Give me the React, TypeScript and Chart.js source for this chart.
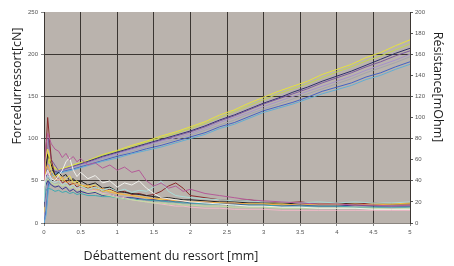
import React, { useEffect, useRef } from "react";
import { Chart, registerables } from "chart.js";

Chart.register(...registerables);

// ---------- Data ----------
// Rising curves (left axis, Force du ressort [cN])
const X_FORCE = [0, 0.03, 0.06, 0.1, 0.2, 0.4, 0.6, 0.8, 1.0, 1.2, 1.4, 1.6, 1.8, 2.0, 2.2, 2.4, 2.6, 2.8, 3.0, 3.2, 3.4, 3.6, 3.8, 4.0, 4.2, 4.4, 4.6, 4.8, 5.0];
const FORCE_YELLOW = [0, 40, 85, 68, 63, 69, 74, 81, 86, 92, 97, 103, 108, 114, 120, 128, 134, 142, 149, 156, 162, 168, 176, 182, 188, 196, 202, 210, 217];
const FORCE_YELLOWGREEN = [0, 30, 75, 66, 62, 68, 73, 80, 85, 90, 96, 101, 106, 112, 118, 125, 132, 139, 146, 153, 159, 165, 172, 179, 185, 192, 198, 205, 212];
const FORCE_NAVY = [0, 20, 60, 62, 61, 67, 73, 79, 84, 89, 94, 99, 104, 109, 115, 122, 128, 135, 142, 148, 155, 161, 168, 174, 180, 187, 194, 201, 207];
const FORCE_PURPLE = [0, 50, 100, 75, 62, 67, 72, 78, 83, 88, 93, 98, 103, 108, 114, 121, 127, 134, 141, 147, 153, 159, 166, 172, 178, 185, 191, 198, 204];
const FORCE_LAVENDER = [0, 35, 70, 64, 61, 66, 71, 77, 82, 87, 92, 97, 101, 106, 112, 119, 125, 131, 138, 144, 150, 156, 162, 168, 174, 181, 187, 193, 200];
const FORCE_GRAY = [0, 25, 55, 60, 60, 65, 70, 76, 80, 85, 90, 95, 99, 104, 110, 116, 122, 129, 135, 141, 147, 153, 159, 165, 171, 178, 184, 190, 197];
const FORCE_BLUE = [0, 15, 45, 58, 60, 64, 69, 74, 79, 83, 88, 92, 97, 102, 107, 114, 119, 126, 133, 138, 143, 149, 156, 161, 166, 173, 178, 185, 191];
const FORCE_CYAN = [0, 10, 40, 55, 59, 63, 68, 73, 77, 82, 86, 90, 95, 100, 105, 112, 117, 124, 131, 136, 141, 147, 153, 158, 163, 170, 175, 182, 188];

// Decaying curves (right axis, Résistance [mOhm])
const X_RES = [0, 0.02, 0.05, 0.1, 0.15, 0.2, 0.25, 0.3, 0.35, 0.4, 0.45, 0.5, 0.6, 0.7, 0.8, 0.9, 1.0, 1.1, 1.2, 1.3, 1.4, 1.5, 1.6, 1.7, 1.8, 1.9, 2.0, 2.2, 2.4, 2.6, 2.8, 3.0, 3.25, 3.5, 3.75, 4.0, 4.25, 4.5, 4.75, 5.0];
const RES_MAGENTA = [40, 70, 85, 75, 70, 68, 62, 66, 60, 63, 58, 61, 55, 57, 52, 55, 50, 53, 48, 50, 40, 35, 38, 33, 35, 30, 32, 28, 26, 24, 22, 21, 20, 19, 18, 18, 17, 17, 16, 17];
const RES_DARKRED = [30, 60, 100, 60, 45, 42, 38, 40, 36, 38, 34, 36, 33, 35, 30, 32, 29, 30, 27, 28, 26, 27, 30, 35, 38, 33, 26, 24, 22, 21, 22, 20, 19, 20, 18, 19, 18, 19, 18, 19];
const RES_WHITE = [35, 45, 50, 42, 40, 45, 50, 58, 62, 50, 44, 48, 42, 45, 38, 40, 34, 38, 36, 40, 33, 28, 24, 23, 22, 21, 20, 19, 18, 17, 16, 16, 15, 15, 14, 14, 14, 13, 13, 13];
const RES_LIGHTCYAN = [20, 40, 45, 40, 38, 40, 36, 38, 34, 36, 33, 35, 32, 34, 31, 33, 30, 32, 29, 31, 30, 34, 40, 30, 26, 25, 24, 23, 22, 21, 21, 20, 20, 19, 20, 19, 20, 19, 19, 20];
const RES_ORANGE = [25, 50, 55, 45, 42, 40, 44, 38, 40, 36, 38, 34, 36, 31, 33, 29, 28, 27, 26, 25, 24, 23, 23, 22, 21, 21, 20, 20, 19, 19, 18, 18, 17, 18, 17, 17, 18, 17, 18, 18];
const RES_YELLOW = [10, 60, 70, 50, 44, 46, 40, 42, 45, 38, 40, 36, 34, 36, 30, 31, 28, 27, 26, 25, 24, 23, 22, 22, 21, 20, 20, 19, 19, 18, 18, 18, 18, 17, 18, 18, 17, 18, 18, 19];
const RES_BLACK = [20, 50, 65, 55, 45, 48, 44, 46, 40, 42, 38, 40, 36, 38, 33, 34, 30, 29, 28, 27, 26, 25, 24, 24, 23, 22, 22, 21, 20, 20, 19, 19, 18, 19, 18, 18, 18, 17, 18, 18];
const RES_DARKBLUE = [15, 35, 40, 36, 34, 35, 32, 34, 30, 32, 29, 30, 28, 29, 26, 27, 25, 24, 24, 23, 22, 22, 21, 21, 20, 20, 19, 19, 18, 18, 17, 17, 16, 17, 16, 16, 17, 16, 16, 16];
const RES_TEAL = [20, 30, 33, 32, 30, 31, 29, 30, 28, 29, 27, 28, 26, 26, 25, 25, 24, 23, 23, 22, 22, 21, 21, 20, 20, 19, 19, 18, 18, 17, 17, 17, 16, 16, 16, 16, 15, 15, 15, 15];
const RES_LIGHTPINK = [30, 45, 48, 40, 38, 42, 36, 38, 34, 36, 32, 33, 30, 31, 28, 27, 25, 24, 22, 21, 20, 19, 18, 17, 16, 16, 15, 14, 14, 13, 13, 13, 12, 12, 12, 12, 12, 12, 12, 12];
const RES_LIGHTGREEN = [25, 38, 42, 38, 36, 37, 35, 36, 33, 34, 31, 32, 29, 30, 27, 26, 24, 23, 22, 21, 20, 19, 19, 18, 18, 17, 17, 16, 16, 15, 15, 15, 14, 14, 14, 14, 14, 14, 13, 14];

const X_TICK_STEP = 0.5;
const LEFT_TICK_STEP = 50;
const RIGHT_TICK_STEP = 20;

const X_TITLE = "Débattement du ressort [mm]";
const LEFT_TITLE = "Forcedurressort[cN]";
const RIGHT_TITLE = "Résistance[mOhm]";

// ---------- Styles ----------
const PLOT_BG = "#bab3ad";
const GRID = "#3b3632";
const TITLE_FONT = '12.5px "Open Sans"';

const forceSeries: [number[], string][] = [
  [FORCE_CYAN, "#62aed4"],
  [FORCE_BLUE, "#4462c4"],
  [FORCE_GRAY, "#a2a4b0"],
  [FORCE_LAVENDER, "#a592cc"],
  [FORCE_PURPLE, "#7c5aa0"],
  [FORCE_NAVY, "#2e2e6e"],
  [FORCE_YELLOWGREEN, "#c4d650"],
  [FORCE_YELLOW, "#e6e23e"],
];

const resSeries: [number[], string][] = [
  [RES_MAGENTA, "#b45a98"],
  [RES_WHITE, "#f2f2ee"],
  [RES_LIGHTCYAN, "#a8dcd8"],
  [RES_LIGHTGREEN, "#c0e0a0"],
  [RES_LIGHTPINK, "#f2b8c8"],
  [RES_TEAL, "#40a8b0"],
  [RES_DARKBLUE, "#3a3a90"],
  [RES_ORANGE, "#f0a848"],
  [RES_YELLOW, "#f0e050"],
  [RES_BLACK, "#202020"],
  [RES_DARKRED, "#8a2a2a"],
];

const bgPlugin = {
  id: "plotBg",
  beforeDraw(chart: any) {
    const { ctx, chartArea } = chart;
    ctx.save();
    ctx.fillStyle = PLOT_BG;
    ctx.fillRect(chartArea.left, chartArea.top, chartArea.right - chartArea.left, chartArea.bottom - chartArea.top);
    ctx.restore();
  },
};

const titlesPlugin = {
  id: "axisTitles",
  afterDraw(chart: any) {
    const { ctx } = chart;
    ctx.save();
    ctx.fillStyle = "#1e1e1e";
    ctx.font = TITLE_FONT;
    ctx.textAlign = "center";
    ctx.textBaseline = "middle";
    ctx.fillText(X_TITLE, 171, 256);
    ctx.save();
    ctx.translate(17, 86);
    ctx.rotate(-Math.PI / 2);
    ctx.fillText(LEFT_TITLE, 0, 0);
    ctx.restore();
    ctx.save();
    ctx.translate(438, 87);
    ctx.rotate(Math.PI / 2);
    ctx.fillText(RIGHT_TITLE, 0, 0);
    ctx.restore();
    ctx.restore();
  },
};

export default function App() {
  const ref = useRef<HTMLCanvasElement | null>(null);
  useEffect(() => {
    if (!ref.current) return;
    const datasets: any[] = [];
    resSeries.forEach(([vals, color]) => {
      datasets.push({
        data: X_RES.map((x, i) => ({ x, y: vals[i] })),
        borderColor: color,
        borderWidth: 1,
        pointRadius: 0,
        yAxisID: "yR",
        tension: 0,
      });
    });
    forceSeries.forEach(([vals, color]) => {
      datasets.push({
        data: X_FORCE.map((x, i) => ({ x, y: vals[i] })),
        borderColor: color,
        borderWidth: 1,
        pointRadius: 0,
        yAxisID: "yL",
        tension: 0,
      });
    });
    const tickFont = { family: "Liberation Sans", size: 6 };
    const chart = new Chart(ref.current, {
      type: "line",
      data: { datasets },
      plugins: [bgPlugin, titlesPlugin],
      options: {
        animation: false,
        responsive: false,
        layout: { padding: { top: 12, left: 0, right: 0, bottom: 0 } },
        plugins: { legend: { display: false }, tooltip: { enabled: false } },
        scales: {
          x: {
            type: "linear",
            min: 0,
            max: 5,
            afterFit: (s: any) => { s.height = 43; },
            ticks: {
              stepSize: X_TICK_STEP,
              font: tickFont,
              color: "#555",
              padding: 3,
              maxRotation: 0,
              callback: (v: any) => String(v),
            },
            grid: { color: GRID, lineWidth: 1, tickLength: 3, tickColor: "#888" },
            border: { color: "#8a8580", width: 1 },
          },
          yL: {
            type: "linear",
            position: "left",
            min: 0,
            max: 250,
            afterFit: (s: any) => { s.width = 44; },
            ticks: { stepSize: LEFT_TICK_STEP, font: tickFont, color: "#555", padding: 3 },
            grid: {
              color: (c: any) => (c.tick && c.tick.value === 250 ? "rgba(0,0,0,0)" : GRID),
              lineWidth: 1,
              tickLength: 3,
              tickColor: "#888",
            },
            border: { color: GRID, width: 1 },
          },
          yR: {
            type: "linear",
            position: "right",
            min: 0,
            max: 200,
            afterFit: (s: any) => { s.width = 44; },
            ticks: { stepSize: RIGHT_TICK_STEP, font: tickFont, color: "#555", padding: 2 },
            grid: { drawOnChartArea: false, tickLength: 3, tickColor: "#555" },
            border: { color: GRID, width: 1 },
          },
        },
      },
    });
    return () => chart.destroy();
  }, []);
  return (
    <div style={{ position: "fixed", left: 0, top: 0, width: 454, height: 266, background: "#fff" }}>
      <canvas ref={ref} width={454} height={266} />
    </div>
  );
}
